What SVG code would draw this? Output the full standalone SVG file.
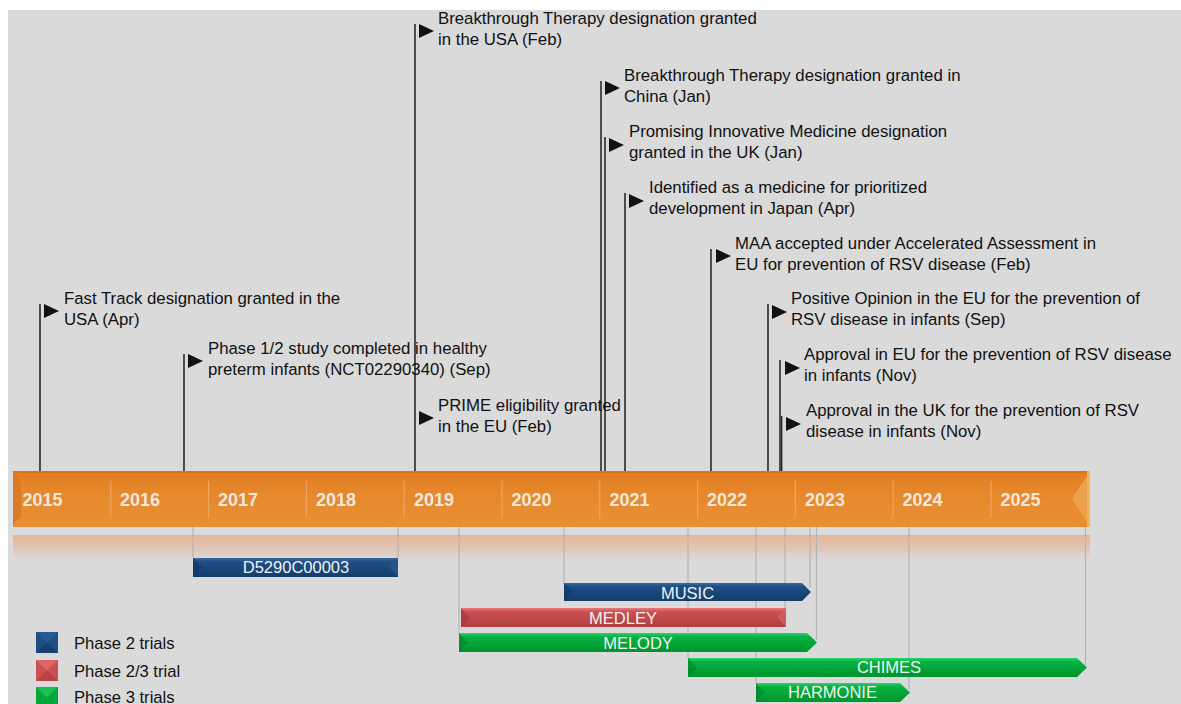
<svg xmlns="http://www.w3.org/2000/svg" width="1181" height="704" viewBox="0 0 1181 704">
<defs>
<style>
.ev{font-family:"Liberation Sans",Arial,sans-serif;font-size:16.8px;fill:#111}
.yr{font-family:"Liberation Sans",Arial,sans-serif;font-size:18px;font-weight:bold;fill:#f4e8dc}
.bt{font-family:"Liberation Sans",Arial,sans-serif;font-size:16.5px;fill:#f2f2f2;text-anchor:middle}
.lg{font-family:"Liberation Sans",Arial,sans-serif;font-size:16.6px;fill:#111}
.stem{stroke:#2a2a2a;stroke-width:1.6;fill:none}
.flag{fill:#111}
.guide{stroke:#b4b4b4;stroke-width:1.2;fill:none}
.div{stroke:#eea563;stroke-width:1.2}
</style>
<linearGradient id="gOr" x1="0" y1="0" x2="0" y2="1">
<stop offset="0" stop-color="#e37d22"/><stop offset="0.5" stop-color="#e78a2e"/><stop offset="1" stop-color="#e88f35"/>
</linearGradient>
<linearGradient id="gRef" x1="0" y1="0" x2="0" y2="1">
<stop offset="0" stop-color="#e6b496"/><stop offset="1" stop-color="#dadada"/>
</linearGradient>
<linearGradient id="gBl" x1="0" y1="0" x2="0" y2="1">
<stop offset="0" stop-color="#3a6aa0"/><stop offset="0.2" stop-color="#1d4f86"/><stop offset="1" stop-color="#123d6b"/>
</linearGradient>
<linearGradient id="gRd" x1="0" y1="0" x2="0" y2="1">
<stop offset="0" stop-color="#e57a7a"/><stop offset="0.2" stop-color="#cc5052"/><stop offset="1" stop-color="#b23d40"/>
</linearGradient>
<linearGradient id="gGr" x1="0" y1="0" x2="0" y2="1">
<stop offset="0" stop-color="#2ed06a"/><stop offset="0.2" stop-color="#06b242"/><stop offset="1" stop-color="#00952c"/>
</linearGradient>
</defs>
<rect x="0" y="0" width="1181" height="704" fill="#ffffff"/>
<rect x="8" y="10" width="1173" height="694" fill="#dadada"/>

<g id="timeline">
<rect x="13" y="535" width="1077" height="26" fill="url(#gRef)"/>
<rect x="13" y="471" width="1077" height="56" fill="url(#gOr)"/>
<rect x="13" y="471" width="1077" height="2" fill="#d9731c"/>
<polygon points="13,473 21,482 21,516 13,525" fill="#d87420" opacity="0.7"/>
<polygon points="1090,471 1072,499 1090,527" fill="#eba04c"/>
<rect x="1087" y="471" width="3" height="56" fill="#f0b45a"/>
<g class="div">
<line x1="110.8" y1="481" x2="110.8" y2="518"/><line x1="208.6" y1="481" x2="208.6" y2="518"/>
<line x1="306.4" y1="481" x2="306.4" y2="518"/><line x1="404.2" y1="481" x2="404.2" y2="518"/>
<line x1="502" y1="481" x2="502" y2="518"/><line x1="599.8" y1="481" x2="599.8" y2="518"/>
<line x1="697.6" y1="481" x2="697.6" y2="518"/><line x1="795.4" y1="481" x2="795.4" y2="518"/>
<line x1="893.2" y1="481" x2="893.2" y2="518"/><line x1="991" y1="481" x2="991" y2="518"/>
</g>
<text class="yr" x="22.5" y="506">2015</text>
<text class="yr" x="120" y="506">2016</text>
<text class="yr" x="218" y="506">2017</text>
<text class="yr" x="316" y="506">2018</text>
<text class="yr" x="414" y="506">2019</text>
<text class="yr" x="511.5" y="506">2020</text>
<text class="yr" x="609.5" y="506">2021</text>
<text class="yr" x="707" y="506">2022</text>
<text class="yr" x="805" y="506">2023</text>
<text class="yr" x="902.5" y="506">2024</text>
<text class="yr" x="1000.5" y="506">2025</text>
</g>

<g id="connectors">
<line class="stem" x1="40" y1="304" x2="40" y2="471"/>
<line class="stem" x1="184" y1="354" x2="184" y2="471"/>
<line class="stem" x1="415" y1="24" x2="415" y2="471"/>
<line class="stem" x1="601" y1="81" x2="601" y2="471"/>
<line class="stem" x1="605" y1="137" x2="605" y2="471"/>
<line class="stem" x1="625" y1="193" x2="625" y2="471"/>
<line class="stem" x1="711" y1="249" x2="711" y2="471"/>
<line class="stem" x1="768" y1="304" x2="768" y2="471"/>
<line class="stem" x1="780" y1="360" x2="780" y2="471"/>
<line class="stem" x1="781.6" y1="416" x2="781.6" y2="471"/>
<g class="guide">
<line x1="193" y1="527" x2="193" y2="558"/>
<line x1="398" y1="527" x2="398" y2="558"/>
<line x1="459" y1="527" x2="459" y2="633"/>
<line x1="564" y1="527" x2="564" y2="583"/>
<line x1="688" y1="527" x2="688" y2="658"/>
<line x1="756" y1="527" x2="756" y2="683"/>
<line x1="785" y1="527" x2="785" y2="608"/>
<line x1="810" y1="527" x2="810" y2="588"/>
<line x1="816.5" y1="527" x2="816.5" y2="640"/>
<line x1="909" y1="527" x2="909" y2="690"/>
<line x1="1085.5" y1="527" x2="1085.5" y2="665"/>
</g>
</g>

<g id="ev-fasttrack">
<polygon class="flag" points="44,304 59,311 44,318"/>
<text class="ev" x="64" y="304">Fast Track designation granted in the</text>
<text class="ev" x="64" y="325">USA (Apr)</text>
</g>
<g id="ev-phase12">
<polygon class="flag" points="188,354 203,361 188,368"/>
<text class="ev" x="208" y="354">Phase 1/2 study completed in healthy</text>
<text class="ev" x="208" y="375">preterm infants (NCT02290340) (Sep)</text>
</g>
<g id="ev-bt-usa">
<polygon class="flag" points="419,24 434,31 419,38"/>
<text class="ev" x="438" y="24">Breakthrough Therapy designation granted</text>
<text class="ev" x="438" y="45">in the USA (Feb)</text>
</g>
<g id="ev-prime">
<polygon class="flag" points="419,411 434,418 419,425"/>
<text class="ev" x="438" y="411">PRIME eligibility granted</text>
<text class="ev" x="438" y="432">in the EU (Feb)</text>
</g>
<g id="ev-bt-china">
<polygon class="flag" points="605,81 620,88 605,95"/>
<text class="ev" x="624" y="81">Breakthrough Therapy designation granted in</text>
<text class="ev" x="624" y="102">China (Jan)</text>
</g>
<g id="ev-pim-uk">
<polygon class="flag" points="609,138 624,145 609,152"/>
<text class="ev" x="629" y="137">Promising Innovative Medicine designation</text>
<text class="ev" x="629" y="158">granted in the UK (Jan)</text>
</g>
<g id="ev-japan">
<polygon class="flag" points="629,194 644,201 629,208"/>
<text class="ev" x="649" y="193">Identified as a medicine for prioritized</text>
<text class="ev" x="649" y="214">development in Japan (Apr)</text>
</g>
<g id="ev-maa">
<polygon class="flag" points="716,249 731,256 716,263"/>
<text class="ev" x="735" y="249">MAA accepted under Accelerated Assessment in</text>
<text class="ev" x="735" y="270">EU for prevention of RSV disease (Feb)</text>
</g>
<g id="ev-positive">
<polygon class="flag" points="772,305 787,312 772,319"/>
<text class="ev" x="791" y="304">Positive Opinion in the EU for the prevention of</text>
<text class="ev" x="791" y="325">RSV disease in infants (Sep)</text>
</g>
<g id="ev-approval-eu">
<polygon class="flag" points="785,361 800,368 785,375"/>
<text class="ev" x="804" y="360">Approval in EU for the prevention of RSV disease</text>
<text class="ev" x="804" y="381">in infants (Nov)</text>
</g>
<g id="ev-approval-uk">
<polygon class="flag" points="786,417 801,424 786,431"/>
<text class="ev" x="806" y="416">Approval in the UK for the prevention of RSV</text>
<text class="ev" x="806" y="437">disease in infants (Nov)</text>
</g>

<g id="trial-d5290">
<rect x="193" y="558" width="205" height="19" fill="url(#gBl)"/>
<polygon points="193,558 202,567.5 193,577" fill="#0f3560" opacity="0.6"/>
<polygon points="398,558 389,567.5 398,577" fill="#2a5c95" opacity="0.6"/>
<text class="bt" x="296" y="573">D5290C00003</text>
</g>
<g id="trial-music">
<polygon points="564,583 802,583 811,592 802,601 564,601" fill="url(#gBl)"/>
<polygon points="564,583 573,592 564,601" fill="#0f3560" opacity="0.6"/>
<text class="bt" x="687.5" y="598.5">MUSIC</text>
</g>
<g id="trial-medley">
<rect x="461" y="608" width="325" height="19" fill="url(#gRd)"/>
<polygon points="461,608 470,617.5 461,627" fill="#9e3033" opacity="0.5"/>
<polygon points="786,608 777,617.5 786,627" fill="#d86a6a" opacity="0.6"/>
<text class="bt" x="623" y="623.5">MEDLEY</text>
</g>
<g id="trial-melody">
<polygon points="459,633 807,633 817,642.5 807,652 459,652" fill="url(#gGr)"/>
<polygon points="459,633 468,642.5 459,652" fill="#00802a" opacity="0.6"/>
<text class="bt" x="638" y="648.5">MELODY</text>
</g>
<g id="trial-chimes">
<polygon points="688,658 1077,658 1087,667.5 1077,677 688,677" fill="url(#gGr)"/>
<polygon points="688,658 697,667.5 688,677" fill="#00802a" opacity="0.6"/>
<text class="bt" x="889" y="673">CHIMES</text>
</g>
<g id="trial-harmonie">
<polygon points="756,683 900,683 910,692.5 900,702 756,702" fill="url(#gGr)"/>
<polygon points="756,683 765,692.5 756,702" fill="#00802a" opacity="0.6"/>
<text class="bt" x="832.5" y="698">HARMONIE</text>
</g>

<g id="legend">
<rect x="36" y="632" width="22" height="21" fill="#1d4f86"/>
<polygon points="36,632 58,632 47,642.5" fill="#2a5e98" opacity="0.8"/>
<polygon points="36,653 58,653 47,642.5" fill="#123d6b" opacity="0.8"/>
<rect x="36" y="660" width="22" height="21" fill="#cc5052"/>
<polygon points="36,660 58,660 47,670.5" fill="#e06a6a" opacity="0.8"/>
<polygon points="36,681 58,681 47,670.5" fill="#b23d40" opacity="0.8"/>
<rect x="36" y="687" width="22" height="17" fill="#06a83c"/>
<polygon points="36,687 58,687 47,697.5" fill="#22c45c" opacity="0.8"/>
<text class="lg" x="74" y="648.5">Phase 2 trials</text>
<text class="lg" x="74" y="676.5">Phase 2/3 trial</text>
<text class="lg" x="74" y="703">Phase 3 trials</text>
</g>
</svg>
